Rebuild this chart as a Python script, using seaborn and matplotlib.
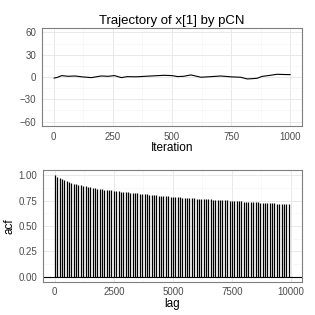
import matplotlib
matplotlib.use("Agg")
import matplotlib.pyplot as plt
from matplotlib.ticker import MultipleLocator, FormatStrFormatter
import seaborn as sns
import pandas as pd

# trajectory of x[1] (iteration, value)
iteration = [1, 15, 34, 60, 90, 120, 160, 200, 230, 257, 286, 310, 350,
             412, 466, 500, 524, 550, 580, 622, 660, 706, 750, 790, 818,
             840, 860, 880, 916, 944, 970, 1000]
x1_value = [-1.5, -0.5, 1.9, 1.0, 1.4, 0.2, -0.8, 1.4, 1.0, 1.9, -0.8, 0.5,
            0.3, 1.4, 2.3, 1.9, 0.6, 1.0, 2.8, -0.3, 0.4, 1.4, 0.2, -0.3,
            -2.6, -2.2, -1.7, 0.8, 2.3, 3.7, 3.4, 3.2]

# autocorrelation at every 100th lag
lag = list(range(0, 10000, 100))
acf = [1.000, 0.982, 0.970, 0.960, 0.950, 0.941, 0.933, 0.925, 0.918, 0.911,
       0.905, 0.900, 0.895, 0.890, 0.885, 0.880, 0.876, 0.872, 0.869, 0.865,
       0.862, 0.859, 0.856, 0.853, 0.850, 0.847, 0.844, 0.841, 0.838, 0.836,
       0.833, 0.830, 0.828, 0.825, 0.823, 0.820, 0.818, 0.815, 0.813, 0.810,
       0.808, 0.806, 0.804, 0.801, 0.799, 0.797, 0.795, 0.793, 0.791, 0.789,
       0.787, 0.785, 0.783, 0.781, 0.780, 0.778, 0.776, 0.775, 0.773, 0.771,
       0.770, 0.768, 0.767, 0.765, 0.764, 0.762, 0.761, 0.759, 0.758, 0.756,
       0.755, 0.754, 0.752, 0.751, 0.749, 0.748, 0.747, 0.745, 0.744, 0.742,
       0.741, 0.740, 0.738, 0.737, 0.735, 0.734, 0.733, 0.731, 0.730, 0.728,
       0.727, 0.726, 0.724, 0.723, 0.721, 0.720, 0.719, 0.718, 0.716, 0.715]

traj = pd.DataFrame({"Iteration": iteration, "x1": x1_value})
acf_df = pd.DataFrame({"lag": lag, "acf": acf})

sns.set_theme(style="white")
plt.rcParams["font.family"] = ["Liberation Sans", "DejaVu Sans"]
plt.rcParams["text.color"] = "black"
plt.rcParams["axes.labelcolor"] = "black"

fig = plt.figure(figsize=(3.15, 3.15), dpi=100)
ax1 = fig.add_axes([0.133, 0.600, 0.826, 0.311])
ax2 = fig.add_axes([0.135, 0.105, 0.824, 0.355])


def bw_style(ax):
    # ggplot theme_bw look
    ax.set_facecolor("white")
    ax.grid(True, which="major", color="#E5E5E5", linewidth=0.6)
    ax.grid(True, which="minor", color="#F5F5F5", linewidth=0.5)
    ax.set_axisbelow(True)
    for s in ax.spines.values():
        s.set_color("#7F7F7F")
        s.set_linewidth(0.8)
    ax.tick_params(axis="both", which="major", length=2.5, width=0.6,
                   color="#7F7F7F", labelsize=7, labelcolor="#4D4D4D", pad=1.5)
    ax.tick_params(axis="both", which="minor", length=0)


# ---- top: trajectory ----
sns.lineplot(data=traj, x="Iteration", y="x1", ax=ax1, color="black",
             linewidth=0.8)
ax1.set_xlim(-50, 1050)
ax1.set_ylim(-66, 66)
ax1.xaxis.set_major_locator(MultipleLocator(250))
ax1.xaxis.set_minor_locator(MultipleLocator(125))
ax1.yaxis.set_minor_locator(MultipleLocator(15))
ax1.set_yticks([-60, -30, 0, 30, 60])
ax1.set_yticklabels(["\u221260", "\u221230", "0", "30", "60"])
bw_style(ax1)
ax1.set_xlabel("Iteration", fontsize=8.5, labelpad=0.5, color="black")
ax1.set_ylabel("")
ax1.set_title("Trajectory of x[1] by pCN", fontsize=9.5, pad=3, color="black")

# ---- bottom: acf ----
ax2.vlines(acf_df["lag"], 0, acf_df["acf"], color="black", linewidth=0.9)
ax2.axhline(0, color="black", linewidth=0.8)
ax2.set_xlim(-520, 10470)
ax2.set_ylim(-0.05, 1.05)
ax2.xaxis.set_major_locator(MultipleLocator(2500))
ax2.xaxis.set_minor_locator(MultipleLocator(1250))
ax2.yaxis.set_major_locator(MultipleLocator(0.25))
ax2.yaxis.set_minor_locator(MultipleLocator(0.125))
ax2.yaxis.set_major_formatter(FormatStrFormatter("%.2f"))
bw_style(ax2)
ax2.set_xlabel("lag", fontsize=8.5, labelpad=0.5, color="black")
ax2.set_ylabel("acf", fontsize=8.5, labelpad=2, color="black")

fig.savefig("out.png", dpi=100)
